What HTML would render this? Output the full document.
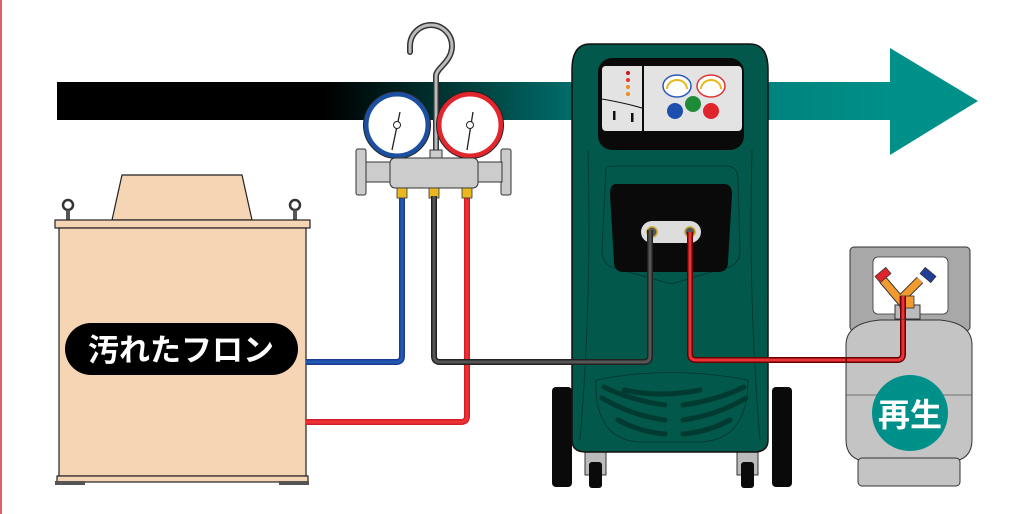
<!DOCTYPE html>
<html><head><meta charset="utf-8"><style>
html,body{margin:0;padding:0;background:#fff;width:1023px;height:514px;overflow:hidden}
svg{display:block}
</style></head><body>
<svg width="1023" height="514" viewBox="0 0 1023 514" xmlns="http://www.w3.org/2000/svg">
<defs>
<linearGradient id="ar" x1="0" x2="1" y1="0" y2="0">
<stop offset="0" stop-color="#000"/>
<stop offset="0.32" stop-color="#000"/>
<stop offset="0.62" stop-color="#00706c"/>
<stop offset="1" stop-color="#00908a"/>
</linearGradient>
</defs>
<line x1="1" y1="0" x2="1" y2="514" stroke="#e0606a" stroke-width="2"/>
<rect x="57" y="82" width="840" height="38" fill="url(#ar)"/>
<polygon points="890,48 978,101 890,155" fill="#00908a"/>

<polygon points="122,175 242,175 252,220 112,220" fill="#f5d5b4" stroke="#222" stroke-width="1.2"/>
<g fill="none" stroke="#333" stroke-width="2.5"><circle cx="68" cy="205" r="5"/><circle cx="295" cy="205" r="5"/></g>
<rect x="66" y="210" width="4" height="10" fill="#555"/><rect x="293" y="210" width="4" height="10" fill="#555"/>
<rect x="55" y="220" width="255" height="8" fill="#f5d5b4" stroke="#222" stroke-width="1.2"/>
<rect x="59" y="228" width="247" height="248" fill="#f5d5b4" stroke="#222" stroke-width="1.2"/>
<rect x="57" y="476" width="251" height="6" fill="#f5d5b4" stroke="#222" stroke-width="1.2"/>
<rect x="55" y="481" width="30" height="4" fill="#555"/><rect x="279" y="481" width="30" height="4" fill="#555"/>
<rect x="65" y="323" width="233" height="52" rx="26" fill="#000"/>
<text x="181" y="361" font-family="'Liberation Sans','Noto Sans CJK JP',sans-serif" font-size="31" fill="#fff" text-anchor="middle" font-weight="bold">汚れたフロン</text>

<g fill="none" stroke-width="6" stroke-linejoin="round">
<path d="M306,362 H396 Q402,362 402,356 V196" stroke="#1a3d8f"/>
<path d="M306,422 H461 Q467,422 467,416 V196" stroke="#d21f26"/>
</g>
<g fill="none" stroke-width="3" stroke-linejoin="round">
<path d="M306,362 H396 Q402,362 402,356 V196" stroke="#2259b5"/>
<path d="M306,422 H461 Q467,422 467,416 V196" stroke="#ed3237"/>
</g>

<path d="M436,158 V76 C436,68 452,62 452,46 A21,21 0 0 0 410,46 V52" fill="none" stroke="#333" stroke-width="6" stroke-linecap="round"/>
<path d="M436,158 V76 C436,68 452,62 452,46 A21,21 0 0 0 410,46 V52" fill="none" stroke="#bbb" stroke-width="3" stroke-linecap="round"/>
<circle cx="397" cy="125" r="31" fill="#fff" stroke="#1d4fa0" stroke-width="5"/>
<circle cx="397" cy="125" r="33.5" fill="none" stroke="#222" stroke-width="1"/>
<circle cx="470" cy="125" r="31" fill="#fff" stroke="#e3262d" stroke-width="5"/>
<circle cx="470" cy="125" r="33.5" fill="none" stroke="#222" stroke-width="1"/>
<g stroke="#222" stroke-width="1.3"><line x1="400" y1="112" x2="392" y2="150"/><line x1="473" y1="112" x2="467" y2="150"/></g>
<circle cx="397" cy="125" r="3.5" fill="#fff" stroke="#222"/><circle cx="470" cy="125" r="3.5" fill="#fff" stroke="#222"/>
<g fill="#ccc" stroke="#333" stroke-width="1">
<rect x="430" y="150" width="12" height="12"/>
<rect x="356" y="149" width="10" height="46" rx="2"/><rect x="366" y="162" width="24" height="20"/>
<rect x="501" y="149" width="10" height="46" rx="2"/><rect x="478" y="162" width="24" height="20"/>
<rect x="390" y="158" width="88" height="30" rx="5"/>
</g>
<g fill="#e9b81e" stroke="#333" stroke-width="0.8">
<rect x="397" y="188" width="10" height="10"/><rect x="429" y="188" width="10" height="10"/><rect x="462" y="188" width="10" height="10"/>
</g>

<rect x="552" y="387" width="20" height="100" rx="4" fill="#0a0a0a"/>
<rect x="772" y="387" width="20" height="100" rx="4" fill="#0a0a0a"/>
<rect x="585" y="450" width="21" height="25" fill="#bbb" stroke="#333"/><rect x="589" y="462" width="13" height="26" rx="3" fill="#0a0a0a"/>
<rect x="737" y="450" width="21" height="25" fill="#bbb" stroke="#333"/><rect x="741" y="462" width="13" height="26" rx="3" fill="#0a0a0a"/>
<path d="M590,44 H750 Q768,44 768,70 V440 Q768,452 754,452 H586 Q572,452 572,440 V70 Q572,44 590,44 Z" fill="#02584a" stroke="#111" stroke-width="1.5"/>
<rect x="598" y="58" width="146" height="92" rx="14" fill="#0a0a0a"/>
<path d="M604,66 H642 V131 H606 Q602,131 602,126 V70 Q602,66 606,66 Z" fill="#e3e3e3"/>
<path d="M644,66 H738 Q742,66 742,72 V126 Q742,131 738,131 H644 Z" fill="#e3e3e3"/>
<path d="M602,99 Q625,103 642,108" fill="none" stroke="#111" stroke-width="1"/>
<circle cx="628" cy="73" r="2" fill="#c81a1a"/><circle cx="628" cy="80" r="2" fill="#e32"/><circle cx="628" cy="87" r="2" fill="#f08a22"/><circle cx="628" cy="94" r="2" fill="#f08a22"/>
<rect x="613" y="111" width="2.5" height="9" fill="#111"/><rect x="631" y="113" width="2.5" height="9" fill="#111"/>
<ellipse cx="677" cy="86" rx="14" ry="11" fill="#fff" stroke="#2a5ab8" stroke-width="1.5"/>
<ellipse cx="711" cy="86" rx="14" ry="11" fill="#fff" stroke="#d33" stroke-width="1.5"/>
<path d="M667,89 A10,9 0 0 1 687,89" fill="none" stroke="#e9b81e" stroke-width="2"/>
<path d="M701,89 A10,9 0 0 1 721,89" fill="none" stroke="#e9b81e" stroke-width="2"/>
<circle cx="675" cy="111" r="8" fill="#1f4fae"/><circle cx="693" cy="104" r="8" fill="#1f8a3a"/><circle cx="711" cy="111" r="8" fill="#e0242c"/>
<path d="M606,168 Q606,166 620,166 H726 Q738,166 738,180 L740,250 Q740,265 726,268 Q690,278 672,284 Q650,278 614,268 Q602,265 602,250 Z" fill="none" stroke="#033" stroke-width="0.8"/>
<path d="M616,184 H724 Q732,184 732,194 L728,262 Q728,272 718,272 H624 Q614,272 614,262 L610,194 Q610,184 616,184 Z" fill="#0a0a0a"/>
<rect x="641" y="221" width="60" height="22" rx="11" fill="#ddd"/>
<circle cx="652" cy="232" r="5" fill="#555" stroke="#c9a227" stroke-width="1.5"/><circle cx="690" cy="232" r="5" fill="#555" stroke="#c9a227" stroke-width="1.5"/>
<path d="M588,150 Q592,300 580,440 M752,150 Q748,300 760,440" fill="none" stroke="#033" stroke-width="0.8"/>
<path d="M596,380 Q670,365 748,380 Q748,440 700,442 H640 Q594,440 596,380 Z" fill="none" stroke="#033" stroke-width="0.8"/>
<g stroke="#013a30" stroke-width="5" stroke-linecap="round" fill="none">
<path d="M604,387 Q630,400 665,405"/><path d="M744,387 Q718,400 683,405"/>
<path d="M624,390 Q660,398 700,390"/>
<path d="M602,398 Q630,415 665,420"/><path d="M746,398 Q718,415 683,420"/>
<path d="M618,420 Q640,432 665,434"/><path d="M730,420 Q708,432 683,434"/>
</g>
<path d="M434,196 V356 Q434,362 440,362 H644 Q650,362 650,356 V230" fill="none" stroke="#222" stroke-width="6" stroke-linejoin="round"/>
<path d="M434,196 V356 Q434,362 440,362 H644 Q650,362 650,356 V230" fill="none" stroke="#555" stroke-width="3" stroke-linejoin="round"/>
<path d="M690,232 V354 Q690,360 696,360 H897 Q903,360 903,354 V296" fill="none" stroke="#600" stroke-width="6"/>
<path d="M690,232 V354 Q690,360 696,360 H897 Q903,360 903,354 V296" fill="none" stroke="#ed3237" stroke-width="3"/>

<rect x="850" y="247" width="120" height="84" rx="4" fill="#a8a8a8" stroke="#333"/>
<rect x="873" y="257" width="75" height="57" rx="5" fill="#fff" stroke="#333" stroke-width="0.8"/>
<rect x="895" y="305" width="25" height="14" fill="#bbb" stroke="#333"/>
<path d="M883,280 L900,300 L920,280" fill="none" stroke="#333" stroke-width="9"/>
<path d="M883,280 L900,300 L920,280" fill="none" stroke="#f19a2f" stroke-width="7"/>
<rect x="900" y="296" width="14" height="12" fill="#f19a2f" stroke="#333" stroke-width="0.8"/>
<rect x="876" y="271" width="14" height="8" transform="rotate(-40 883 275)" fill="#e0242c" stroke="#333" stroke-width="0.8"/>
<rect x="921" y="271" width="14" height="8" transform="rotate(40 928 275)" fill="#1f3f99" stroke="#333" stroke-width="0.8"/>
<path d="M903,354 V296" fill="none" stroke="#600" stroke-width="6"/><path d="M903,356 V296" stroke="#ed3237" stroke-width="3"/>
<path d="M846,345 Q846,323 880,320 H940 Q972,323 972,345 V440 Q972,460 950,462 H868 Q846,460 846,440 Z" fill="#c4c4c4" stroke="#333" stroke-width="1"/>
<path d="M903,320 V354 Q903,360 897,360 H846" fill="none" stroke="#600" stroke-width="6"/>
<path d="M903,320 V354 Q903,360 897,360 H847" fill="none" stroke="#ed3237" stroke-width="3"/>
<line x1="846" y1="395" x2="972" y2="395" stroke="#555" stroke-width="0.8"/>
<rect x="858" y="458" width="102" height="28" rx="4" fill="#c4c4c4" stroke="#333"/>
<circle cx="910" cy="413" r="38" fill="#00908a"/>
<text x="910" y="426" font-family="'Liberation Sans','Noto Sans CJK JP',sans-serif" font-size="32" fill="#fff" text-anchor="middle" font-weight="bold">再生</text>
</svg>
</body></html>
